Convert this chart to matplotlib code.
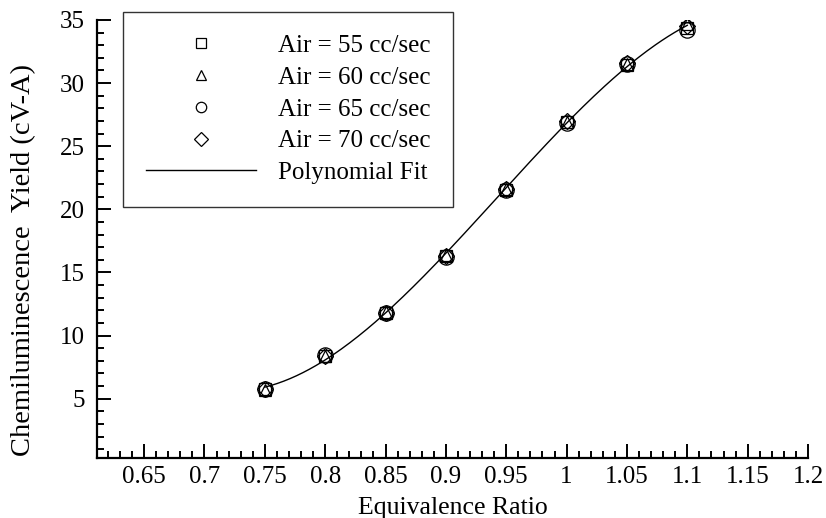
import numpy as np
import matplotlib.pyplot as plt
from matplotlib.ticker import MultipleLocator

plt.rcParams['font.family'] = ['Liberation Serif', 'DejaVu Serif']
plt.rcParams['mathtext.fontset'] = 'stix'

# equivalence ratio and chemiluminescence yield
phi = [0.75, 0.80, 0.85, 0.90, 0.95, 1.00, 1.05, 1.10]
air_55 = [5.75, 8.35, 11.80, 16.30, 21.55, 26.95, 31.40, 34.40]
air_60 = [5.70, 8.40, 11.85, 16.35, 21.60, 26.90, 31.55, 34.65]
air_65 = [5.80, 8.45, 11.75, 16.25, 21.50, 26.85, 31.50, 34.20]
air_70 = [5.75, 8.40, 11.80, 16.30, 21.65, 27.00, 31.60, 34.55]

series = [
    ("Air = 55 cc/sec", air_55, "s", 8),
    ("Air = 60 cc/sec", air_60, "^", 9),
    ("Air = 65 cc/sec", air_65, "o", 11),
    ("Air = 70 cc/sec", air_70, "D", 8),
]

fig = plt.figure(figsize=(8.26, 5.18), dpi=100)
ax = fig.add_axes([97 / 826, 60 / 518, 711 / 826, 438 / 518])

for label, ys, marker, ms in series:
    ax.plot(phi, ys, linestyle="none", marker=marker, markersize=ms,
            markerfacecolor="none", markeredgecolor="black",
            markeredgewidth=0.9, label=label)

# third order polynomial fit through all the points
all_x = np.tile(phi, 4)
all_y = np.concatenate([air_55, air_60, air_65, air_70])
coef = np.polyfit(all_x, all_y, 3)
xf = np.linspace(phi[0], phi[-1], 200)
ax.plot(xf, np.polyval(coef, xf), color="black", linewidth=1.0,
        label="Polynomial Fit")

ax.set_xlim(0.611, 1.2)
ax.set_ylim(0.3, 35)
ax.xaxis.set_minor_locator(MultipleLocator(0.01))
ax.yaxis.set_minor_locator(MultipleLocator(1))
ax.set_xticks(np.arange(0.65, 1.2001, 0.05))
ax.set_xticklabels(["0.65", "0.7", "0.75", "0.8", "0.85", "0.9", "0.95",
                    "1", "1.05", "1.1", "1.15", "1.2"])
ax.set_yticks([5, 10, 15, 20, 25, 30, 35])

for side in ("top", "right"):
    ax.spines[side].set_visible(False)
for side in ("left", "bottom"):
    ax.spines[side].set_linewidth(1.6)

ax.tick_params(which="both", direction="in", width=1.4, labelsize=18)
ax.tick_params(which="major", length=10)
ax.tick_params(which="minor", length=5)
ax.tick_params(axis="x", which="major", pad=6)
ax.tick_params(axis="y", which="major", pad=9)

ax.set_xlabel("Equivalence Ratio", fontsize=18.5, labelpad=6)
ax.set_ylabel("Chemiluminescence  Yield (cV-A)", fontsize=20.5)
ax.yaxis.set_label_coords(-0.085, 0.452)

leg = ax.legend(loc="upper left", bbox_to_anchor=(26 / 711, 1.018),
                fontsize=18, frameon=True, fancybox=False, edgecolor="black",
                handlelength=4.4, handletextpad=0.9, borderpad=0.9,
                labelspacing=0.37, borderaxespad=0)
leg.get_frame().set_linewidth(1.0)
for h in leg.legend_handles[:4]:
    h.set_markersize(7.5)

fig.savefig("out.png", dpi=100)
